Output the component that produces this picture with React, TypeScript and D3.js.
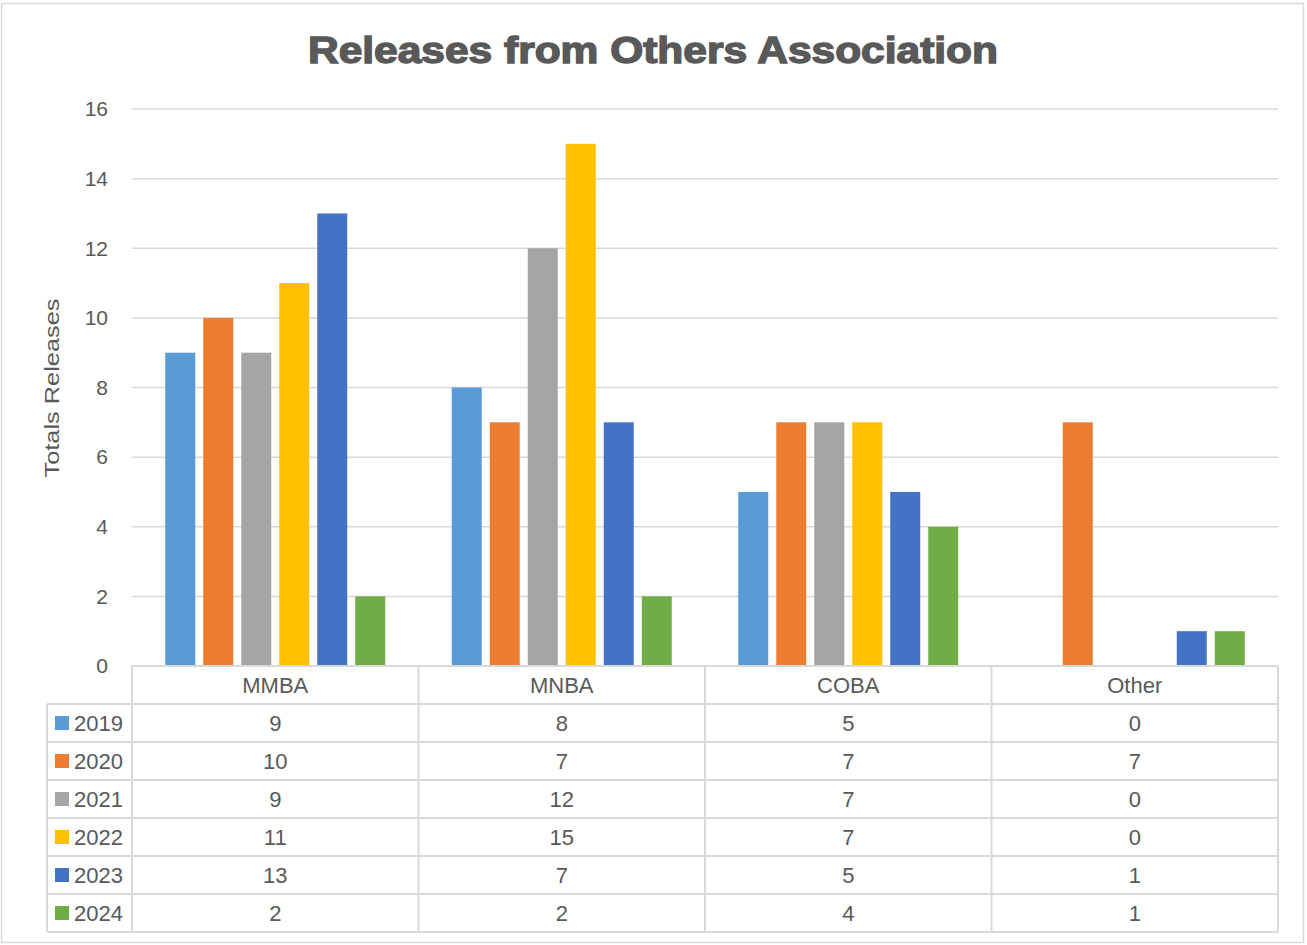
import { useEffect, useRef } from "react"
import * as d3 from "d3"

const categories = ["MMBA", "MNBA", "COBA", "Other"]
const years = ["2019", "2020", "2021", "2022", "2023", "2024"]
const releases2019 = [9, 8, 5, 0]
const releases2020 = [10, 7, 7, 7]
const releases2021 = [9, 12, 7, 0]
const releases2022 = [11, 15, 7, 0]
const releases2023 = [13, 7, 5, 1]
const releases2024 = [2, 2, 4, 1]
const yTicks = [0, 2, 4, 6, 8, 10, 12, 14, 16]
const colors = ["#5B9BD5", "#ED7D31", "#A5A5A5", "#FFC000", "#4472C4", "#70AD47"]

const series = [releases2019, releases2020, releases2021, releases2022, releases2023, releases2024]

export default function App() {
  const svgRef = useRef<SVGSVGElement>(null)

  useEffect(() => {
    if (!svgRef.current) return
    const svg = d3.select(svgRef.current)
    svg.selectAll("*").remove()

    const width = 1307
    const height = 945
    const left = 132
    const right = 1278
    const top = 109
    const bottom = 666
    const rowH = 38
    const legendLeft = 47
    const textColor = "#595959"
    const lineColor = "#D9D9D9"
    const font = "'Liberation Sans', Arial, sans-serif"

    svg.attr("width", width).attr("height", height)

    // background + border
    svg
      .append("rect")
      .attr("x", 1.5)
      .attr("y", 3.5)
      .attr("width", 1302)
      .attr("height", 939)
      .attr("fill", "white")
      .attr("stroke", lineColor)
      .attr("stroke-width", 1.5)

    // Title (heavy weight)
    svg
      .append("text")
      .attr("x", 653)
      .attr("y", 63)
      .attr("text-anchor", "middle")
      .attr("textLength", 690)
      .attr("lengthAdjust", "spacingAndGlyphs")
      .style("font-family", font)
      .style("font-weight", "900")
      .style("font-size", "36px")
      .style("fill", textColor)
      .style("stroke", textColor)
      .style("stroke-width", "1.4px")
      .text("Releases from Others Association")

    const x0 = d3.scaleBand<string>().domain(categories).range([left, right]).padding(0)
    const x1 = d3
      .scaleBand<string>()
      .domain(years)
      .range([0, x0.bandwidth()])
      .paddingInner(8 / 38)
      .paddingOuter(0.875)
    const y = d3.scaleLinear().domain([0, 16]).range([bottom, top])

    // gridlines
    svg
      .append("g")
      .selectAll("line")
      .data(yTicks)
      .enter()
      .append("line")
      .attr("x1", left)
      .attr("x2", right)
      .attr("y1", (d) => y(d))
      .attr("y2", (d) => y(d))
      .attr("stroke", lineColor)
      .attr("stroke-width", 1.5)

    // y tick labels
    svg
      .append("g")
      .selectAll("text")
      .data(yTicks)
      .enter()
      .append("text")
      .attr("x", 108)
      .attr("y", (d) => y(d))
      .attr("dy", "0.35em")
      .attr("text-anchor", "end")
      .style("font-family", font)
      .style("font-size", "21px")
      .style("fill", textColor)
      .text((d) => d)

    // y axis title
    svg
      .append("text")
      .attr("transform", `translate(59,388) rotate(-90)`)
      .attr("text-anchor", "middle")
      .attr("textLength", 179)
      .attr("lengthAdjust", "spacingAndGlyphs")
      .style("font-family", font)
      .style("font-size", "21px")
      .style("fill", textColor)
      .text("Totals Releases")

    // bars
    series.forEach((values, si) => {
      svg
        .append("g")
        .selectAll("rect")
        .data(values)
        .enter()
        .append("rect")
        .attr("x", (_, i) => (x0(categories[i]) || 0) + (x1(years[si]) || 0))
        .attr("width", x1.bandwidth())
        .attr("y", (d) => y(d))
        .attr("height", (d) => bottom - y(d))
        .attr("fill", colors[si])
    })

    // data table
    const table = svg.append("g")
    const tableBottom = bottom + rowH * (years.length + 1)

    // horizontal lines
    for (let r = 0; r <= years.length + 1; r++) {
      const yy = bottom + r * rowH
      table
        .append("line")
        .attr("x1", r === 0 ? left : legendLeft)
        .attr("x2", right)
        .attr("y1", yy)
        .attr("y2", yy)
        .attr("stroke", lineColor)
        .attr("stroke-width", 2)
    }
    // vertical lines
    table
      .append("line")
      .attr("x1", legendLeft)
      .attr("x2", legendLeft)
      .attr("y1", bottom + rowH)
      .attr("y2", tableBottom)
      .attr("stroke", lineColor)
      .attr("stroke-width", 2)
    ;[...categories.map((c) => x0(c) || 0), right].forEach((xx) => {
      table
        .append("line")
        .attr("x1", xx)
        .attr("x2", xx)
        .attr("y1", bottom)
        .attr("y2", tableBottom)
        .attr("stroke", lineColor)
        .attr("stroke-width", 2)
    })

    // header labels
    table
      .selectAll(".cat")
      .data(categories)
      .enter()
      .append("text")
      .attr("class", "cat")
      .attr("x", (d) => (x0(d) || 0) + x0.bandwidth() / 2)
      .attr("y", bottom + rowH / 2)
      .attr("dy", "0.35em")
      .attr("text-anchor", "middle")
      .style("font-family", font)
      .style("font-size", "22px")
      .style("fill", textColor)
      .text((d) => d)

    series.forEach((values, si) => {
      const rowY = bottom + rowH * (si + 1) + rowH / 2
      table
        .append("rect")
        .attr("x", 55)
        .attr("y", rowY - 7)
        .attr("width", 14)
        .attr("height", 14)
        .attr("fill", colors[si])
      table
        .append("text")
        .attr("x", 74)
        .attr("y", rowY)
        .attr("dy", "0.35em")
        .style("font-family", font)
        .style("font-size", "22px")
        .style("fill", textColor)
        .text(years[si])
      table
        .append("g")
        .selectAll("text")
        .data(values)
        .enter()
        .append("text")
        .attr("x", (_, i) => (x0(categories[i]) || 0) + x0.bandwidth() / 2)
        .attr("y", rowY)
        .attr("dy", "0.35em")
        .attr("text-anchor", "middle")
        .style("font-family", font)
        .style("font-size", "22px")
        .style("fill", textColor)
        .text((d) => d)
    })
  }, [])

  return <svg ref={svgRef} style={{ position: "absolute", left: 0, top: 0 }}></svg>
}
